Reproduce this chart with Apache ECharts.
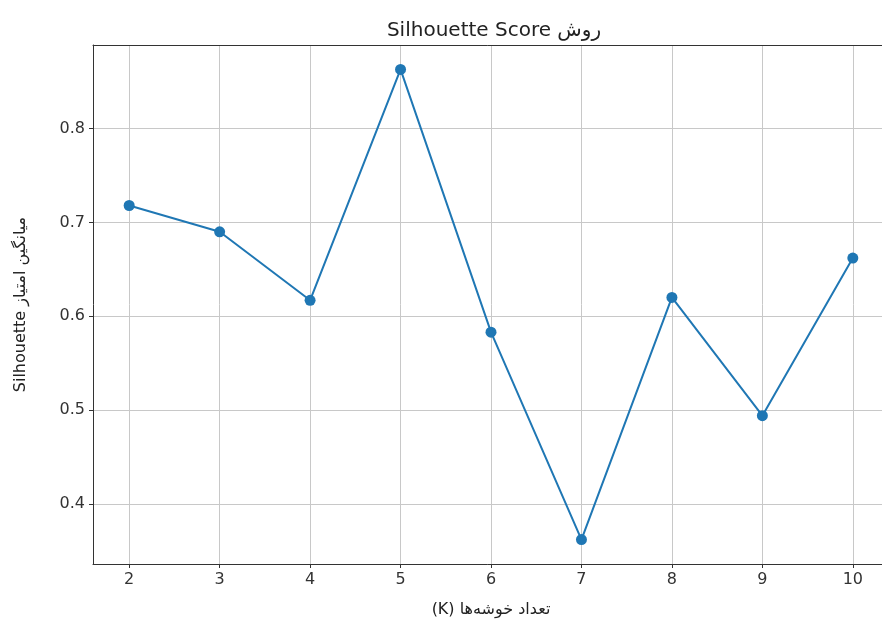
<!DOCTYPE html>
<html>
<head>
<meta charset="utf-8">
<script src="https://cdn.jsdelivr.net/npm/echarts@6/dist/echarts.min.js"></script>
<style>
html, body { margin: 0; padding: 0; background: #fff; }
#chart { width: 882px; height: 622px; }
</style>
</head>
<body>
<div id="chart"></div>
<script>
// silhouette score per number of clusters
const kValues = [2, 3, 4, 5, 6, 7, 8, 9, 10];
const scores = [0.718, 0.690, 0.617, 0.863, 0.583, 0.362, 0.620, 0.494, 0.662];
const xTicks = [2, 3, 4, 5, 6, 7, 8, 9, 10];
const yTicks = [0.4, 0.5, 0.6, 0.7, 0.8];

const FONT = '"DejaVu Sans", sans-serif';
const gridLine = { show: true, lineStyle: { color: '#c8c8c8', width: 1 } };

const chart = echarts.init(document.getElementById('chart'), null, { renderer: 'canvas' });
chart.setOption({
  backgroundColor: '#fff',
  animation: false,
  title: {
    text: 'Silhouette Score روش',
    left: 489, top: 16, textAlign: 'center',
    textStyle: { fontFamily: FONT, fontSize: 20, fontWeight: 'normal', color: '#222' }
  },
  grid: {
    left: 93, top: 45, width: 796, bottom: 58,
    outerBoundsMode: 'none', containLabel: false,
    show: false
  },
  xAxis: [{
    type: 'value', min: 1.6, max: 10.4,
    name: '(K) تعداد خوشه‌ها', nameLocation: 'middle', nameGap: 38,
    nameTextStyle: { fontFamily: FONT, fontSize: 16, color: '#222' },
    axisLine: { lineStyle: { color: '#333' } },
    axisTick: { show: true, inside: false, length: 4, customValues: xTicks, lineStyle: { color: '#333' } },
    axisLabel: { customValues: xTicks, fontFamily: FONT, fontSize: 16, color: '#333', margin: 8 },
    splitLine: gridLine
  }, {
    // top spine only
    type: 'value', position: 'top', min: 1.6, max: 10.4,
    axisLine: { show: true, lineStyle: { color: '#333' } },
    axisTick: { show: false }, axisLabel: { show: false }, splitLine: { show: false }
  }],
  yAxis: {
    type: 'value', min: 0.336, max: 0.889,
    name: 'Silhouette میانگین امتیاز', nameLocation: 'middle', nameGap: 64,
    nameTextStyle: { fontFamily: FONT, fontSize: 16, color: '#222' },
    axisLine: { show: true, lineStyle: { color: '#333' } },
    axisTick: { show: true, inside: false, length: 4, customValues: yTicks, lineStyle: { color: '#333' } },
    axisLabel: { customValues: yTicks, fontFamily: FONT, fontSize: 16, color: '#333', margin: 8,
      formatter: v => v.toFixed(1) },
    splitLine: gridLine
  },
  series: [{
    type: 'line',
    xAxisIndex: 0,
    data: kValues.map((k, i) => [k, scores[i]]),
    symbol: 'circle', symbolSize: 11,
    itemStyle: { color: '#1f77b4' },
    lineStyle: { color: '#1f77b4', width: 2 }
  }]
});
</script>
</body>
</html>
